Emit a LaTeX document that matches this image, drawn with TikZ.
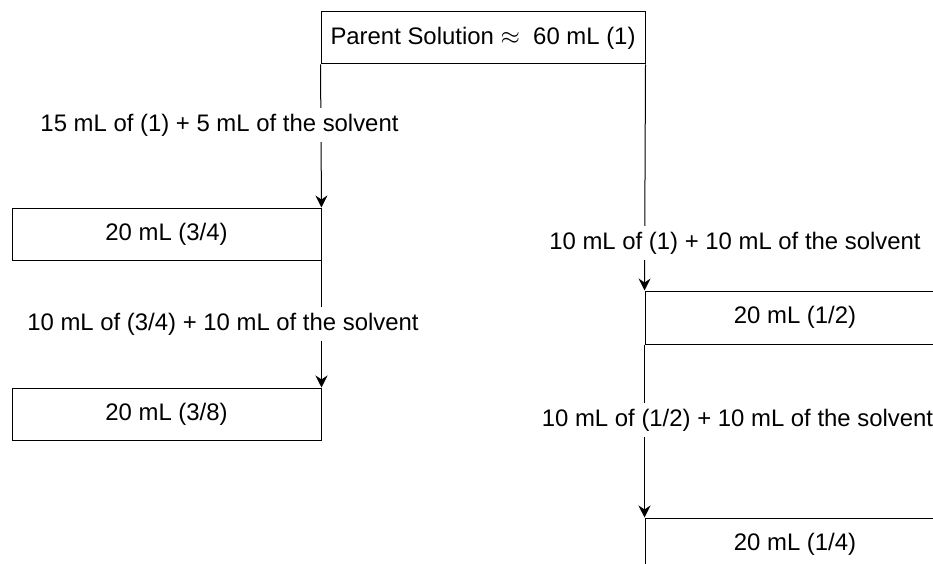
\documentclass[tikz,border=0pt]{standalone}
\usepackage{fontspec}
\setmainfont{Liberation Sans}
\usepackage{tikz}
\usetikzlibrary{arrows.meta,positioning}
\definecolor{ink}{HTML}{000000}
\tikzset{
  stockbox/.style={draw=ink,line width=1pt,fill=white,inner sep=0pt,
    minimum width=309pt,minimum height=52pt,font=\fontsize{23.9}{28}\selectfont},
  dilution/.style={fill=white,inner xsep=2pt,inner ysep=6pt,
    font=\fontsize{23.9}{28}\selectfont},
  flowarrow/.style={-{Stealth[length=12pt,width=12pt,inset=4pt]},line width=1pt,draw=ink}
}

\begin{document}
\begin{tikzpicture}[x=1pt,y=-1pt]
\clip (0,0) rectangle (933,564);
\node[stockbox,minimum width=324pt] (parent) at (483,38) {Parent Solution $\approx$\ \ 60 mL (1)};
\node[stockbox] (threequarter) at (166.5,234) {20 mL (3/4)};
\node[stockbox] (threeeighth) at (166.5,414) {20 mL (3/8)};
\node[stockbox,minimum width=300pt,minimum height=53pt] (half) at (795,317.5) {20 mL (1/2)};
\node[stockbox,minimum width=300pt,minimum height=53pt] (quarter) at (795,544.5) {20 mL (1/4)};
\draw[flowarrow] (parent.south west) -- (threequarter.north east);
\draw[flowarrow] (threequarter.south east) -- (threeeighth.north east);
\draw[flowarrow] (parent.south east) -- (half.north west);
\draw[flowarrow] (half.south west) -- (quarter.north west);
\node[dilution] (stepa) at (219.5,125) {15 mL of (1) + 5 mL of the solvent};
\node[dilution] (stepb) at (223,324) {10 mL of (3/4) + 10 mL of the solvent};
\node[dilution] (stepc) at (735,243) {10 mL of (1) + 10 mL of the solvent};
\node[dilution] (stepd) at (737.5,420) {10 mL of (1/2) + 10 mL of the solvent};
\end{tikzpicture}
\end{document}
